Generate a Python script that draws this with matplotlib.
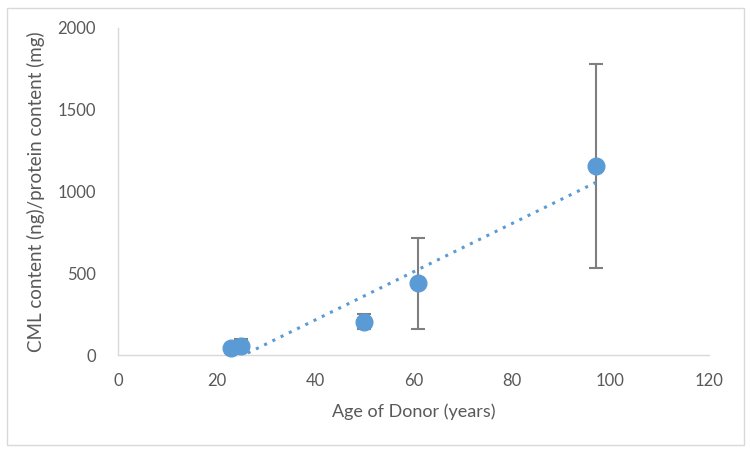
import numpy as np
import matplotlib
matplotlib.use("Agg")
import matplotlib.pyplot as plt
from matplotlib.patches import Rectangle

age = [23, 25, 50, 61, 97]
cml = [42, 57, 203, 438, 1155]
cml_err = [10, 40, 45, 278, 625]
xticks = [0, 20, 40, 60, 80, 100, 120]
yticks = [0, 500, 1000, 1500, 2000]

plt.rcParams['font.family'] = ['Lato', 'DejaVu Sans']
W, H = 751, 453
fig = plt.figure(figsize=(W/100, H/100), dpi=100)
fig.patches.append(Rectangle((7/W, 8/H), 737/W, 437/H, transform=fig.transFigure,
                             fill=False, edgecolor='#d9d9d9', lw=1))
ax = fig.add_axes([118/W, 1-355/H, (709-118)/W, (355-28)/H])

grey = '#595959'
blue = '#5B9BD5'
ax.errorbar(age, cml, yerr=cml_err, fmt='none', ecolor='#7f7f7f', elinewidth=1.5,
            capsize=5, capthick=1.5, zorder=2, clip_on=False)
ax.plot(age, cml, 'o', color=blue, markersize=12, zorder=3, clip_on=False)

m, b = np.polyfit(age, cml, 1)
xs = np.linspace(min(age), max(age), 200)
ax.plot(xs, m*xs + b, linestyle=(0, (1, 2)), color=blue, lw=2.2, zorder=2.5)

ax.set_xlim(0, 120)
ax.set_ylim(0, 2000)
ax.set_xticks(xticks)
ax.set_yticks(yticks)
ax.tick_params(length=0, colors=grey, labelsize=12)
ax.tick_params(axis='x', pad=13)
ax.tick_params(axis='y', pad=16)
for s in ['top', 'right']:
    ax.spines[s].set_visible(False)
for s in ['left', 'bottom']:
    ax.spines[s].set_color('#d9d9d9')
    ax.spines[s].set_linewidth(1)
ax.set_xlabel('Age of Donor (years)', color=grey, fontsize=13, labelpad=10)
ax.set_ylabel('CML content (ng)/protein content (mg)', color=grey, fontsize=13.5, labelpad=9)
fig.savefig('out.png', dpi=100)
